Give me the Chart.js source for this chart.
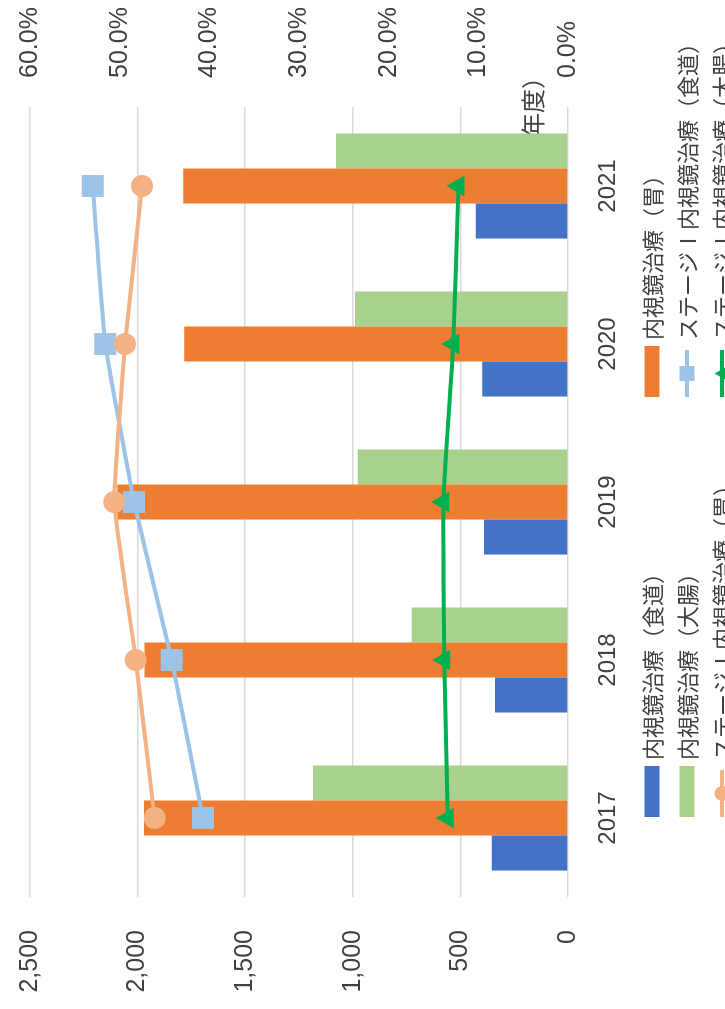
<!DOCTYPE html>
<html>
<head>
<meta charset="utf-8">
<script src="https://cdn.jsdelivr.net/npm/chart.js@4.4.1/dist/chart.umd.min.js"></script>
<style>
  html, body { margin: 0; padding: 0; background: #fff; overflow: hidden; width: 725px; height: 1009px; }
  /* the chart is laid out landscape and turned a quarter turn counter-clockwise */
  #wrap { position: absolute; left: 0; top: 0; width: 1009px; height: 725px;
          transform-origin: 0 0; transform: translateY(1009px) rotate(-90deg); background: #fff; }
  canvas { display: block; }
</style>
</head>
<body>
<div id="wrap"><canvas id="c" width="1009" height="725"></canvas></div>
<script>
// fiscal years
const years = ['2017', '2018', '2019', '2020', '2021'];

// endoscopic treatment cases (left axis)
const esophagusCases = [354, 339, 390, 398, 429];
const stomachCases   = [1970, 1968, 2095, 1783, 1788];
const colonCases     = [1185, 726, 977, 990, 1078];

// share of stage I treated endoscopically, % (right axis)
const esophagusStage1 = [40.7, 44.2, 48.4, 51.6, 53.0];
const stomachStage1   = [46.1, 48.2, 50.6, 49.4, 47.5];
const colonStage1     = [13.4, 13.8, 13.9, 12.8, 12.2];

// axis ticks
const caseTicks = [0, 500, 1000, 1500, 2000, 2500];
const rateTicks = [0, 10, 20, 30, 40, 50, 60];

const seriesNames = [
  '内視鏡治療（食道）', '内視鏡治療（胃）', '内視鏡治療（大腸）',
  'ステージⅠ内視鏡治療（食道）', 'ステージⅠ内視鏡治療（胃）', 'ステージⅠ内視鏡治療（大腸）'
];
const xAxisTitle = '（年度）';

const NUM_FONT = "'Liberation Sans', Arial, sans-serif";
const JP_FONT = "'Noto Sans CJK JP', sans-serif";
const TEXT = '#404040';

function drawMarker(ctx, style, x, y, r, color) {
  ctx.fillStyle = color;
  ctx.beginPath();
  if (style === 'rect') {
    ctx.rect(x - r, y - r, 2 * r, 2 * r);
  } else if (style === 'triangle') {
    ctx.moveTo(x, y - r);
    ctx.lineTo(x + r * 0.866, y + r * 0.5);
    ctx.lineTo(x - r * 0.866, y + r * 0.5);
    ctx.closePath();
  } else {
    ctx.arc(x, y, r, 0, Math.PI * 2);
  }
  ctx.fill();
}

// two-column legend below the plot, filled row by row
const gridLegend = {
  id: 'gridLegend',
  afterDraw(chart) {
    const ctx = chart.ctx;
    const colX = [192, 612];
    const rowY = [652, 687, 722];
    ctx.save();
    chart.data.datasets.forEach((ds, i) => {
      const x = colX[i % 2];
      const y = rowY[Math.floor(i / 2)];
      if (ds.type === 'line') {
        ctx.strokeStyle = ds.borderColor;
        ctx.lineWidth = 4;
        ctx.beginPath();
        ctx.moveTo(x, y);
        ctx.lineTo(x + 47, y);
        ctx.stroke();
        drawMarker(ctx, ds.pointStyle, x + 23.5, y, 7.5, ds.pointBackgroundColor);
      } else {
        ctx.fillStyle = ds.backgroundColor;
        ctx.fillRect(x, y - 7.5, 51, 15);
      }
      ctx.fillStyle = TEXT;
      ctx.font = '22px ' + JP_FONT;
      ctx.textAlign = 'left';
      ctx.textBaseline = 'middle';
      ctx.fillText(ds.label, x + 57, y + 1);
    });
    ctx.restore();
  }
};

// category axis caption, sitting under the bars at the right end of the plot
const axisCaption = {
  id: 'axisCaption',
  beforeDatasetsDraw(chart) {
    const ctx = chart.ctx;
    ctx.save();
    ctx.fillStyle = TEXT;
    ctx.font = '24px ' + JP_FONT;
    ctx.textAlign = 'left';
    ctx.textBaseline = 'middle';
    ctx.fillText(xAxisTitle, 848, 533);
    ctx.restore();
  }
};

// value axes: fixed widths, no extra room reserved for the end labels
function fitValueAxis(width) {
  return function (scale) {
    scale.width = width;
    scale.paddingTop = 0;
    scale.paddingBottom = 0;
  };
}

const barCommon = { type: 'bar', yAxisID: 'yCases', order: 10,
  categoryPercentage: 0.665, barPercentage: 1.0, borderWidth: 0 };
const lineCommon = { type: 'line', yAxisID: 'yRate', borderWidth: 4, tension: 0.1,
  pointBorderWidth: 0, fill: false };

new Chart(document.getElementById('c'), {
  data: {
    labels: years,
    datasets: [
      { ...barCommon, label: seriesNames[0], data: esophagusCases, backgroundColor: '#4472C4' },
      { ...barCommon, label: seriesNames[1], data: stomachCases, backgroundColor: '#ED7D31' },
      { ...barCommon, label: seriesNames[2], data: colonCases, backgroundColor: '#A9D18E' },
      { ...lineCommon, label: seriesNames[3], data: esophagusStage1, order: 3,
        borderColor: '#9DC3E6', pointBackgroundColor: '#9DC3E6', pointStyle: 'rect', pointRadius: 15.5 },
      { ...lineCommon, label: seriesNames[4], data: stomachStage1, order: 2,
        borderColor: '#F4B183', pointBackgroundColor: '#F4B183', pointStyle: 'circle', pointRadius: 11 },
      { ...lineCommon, label: seriesNames[5], data: colonStage1, order: 1,
        borderColor: '#00B050', pointBackgroundColor: '#00B050', pointStyle: 'triangle', pointRadius: 12 }
    ]
  },
  options: {
    responsive: false,
    animation: false,
    devicePixelRatio: 1,
    layout: { padding: { top: 30, left: 0, right: 0, bottom: 0 } },
    plugins: { legend: { display: false }, tooltip: { enabled: false } },
    scales: {
      x: {
        type: 'category',
        grid: { display: false },
        border: { display: false },
        ticks: { color: TEXT, font: { family: NUM_FONT, size: 24 }, padding: 18, maxRotation: 0 },
        afterFit(scale) { scale.height = 725 - 568; }
      },
      yCases: {
        position: 'left',
        min: 0, max: 2500,
        afterBuildTicks(scale) { scale.ticks = caseTicks.map(v => ({ value: v })); },
        grid: { color: '#D9D9D9', lineWidth: 1.5, drawTicks: false },
        border: { display: false },
        ticks: { color: TEXT, font: { family: NUM_FONT, size: 25 }, padding: 33,
                 callback: v => v.toLocaleString('en-US') },
        afterFit: fitValueAxis(112)
      },
      yRate: {
        position: 'right',
        min: 0, max: 60,
        afterBuildTicks(scale) { scale.ticks = rateTicks.map(v => ({ value: v })); },
        grid: { display: false, drawTicks: false },
        border: { display: false },
        ticks: { color: TEXT, font: { family: NUM_FONT, size: 25 }, padding: 29,
                 callback: v => v.toFixed(1) + '%' },
        afterFit: fitValueAxis(1009 - 902)
      }
    }
  },
  plugins: [axisCaption, gridLegend]
});
</script>
</body>
</html>
